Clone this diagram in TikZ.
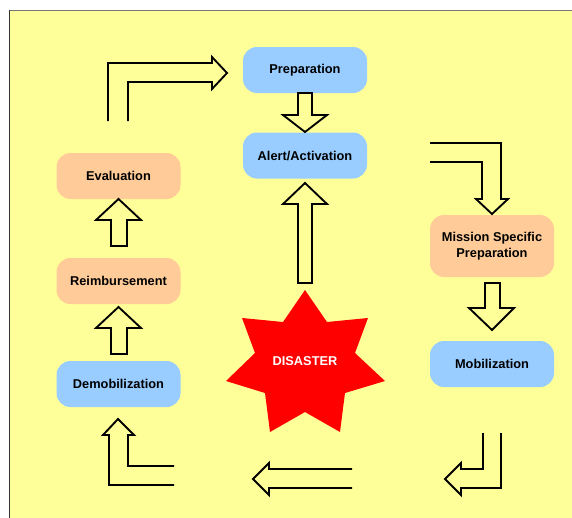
\documentclass[tikz,border=0pt]{standalone}
\usepackage{fontspec}
\setmainfont{Liberation Sans}
\definecolor{bgyellow}{HTML}{FFFF99}
\definecolor{boxblue}{HTML}{99CCFF}
\definecolor{boxpeach}{HTML}{FFCC99}
\definecolor{topline}{HTML}{777777}
\definecolor{leftline}{HTML}{333333}
\begin{document}
\begin{tikzpicture}[x=0.75pt,y=-0.75pt,
  stage/.style={rounded corners=10.5pt, minimum width=93pt, minimum height=34.5pt,
    inner sep=0pt, align=center, font=\bfseries\fontsize{9.6}{12}\selectfont, text=black},
  bluestage/.style={stage, fill=boxblue},
  peachstage/.style={stage, fill=boxpeach},
  blockarrow/.style={draw=black, line width=1.4pt, fill=bgyellow, line join=miter},
  openarrow/.style={draw=black, line width=1.4pt, line join=miter}]
\useasboundingbox (0,0) rectangle (572,518);
\fill[bgyellow] (9,10) rectangle (572,518);
\draw[topline, line width=1.2pt] (9,10.5) -- (572,10.5);
\draw[leftline, line width=1.2pt] (9.5,10) -- (9.5,518);

% stages
\node[bluestage] (prep) at (305,70) {Preparation};
\node[bluestage] (alert) at (305,155.5) {Alert/Activation};
\node[peachstage, minimum height=46.5pt] (mission) at (492,246) {Mission Specific\\Preparation};
\node[bluestage] (mobil) at (492,364) {Mobilization};
\node[peachstage] (eval) at (118.5,176) {Evaluation};
\node[peachstage] (reimb) at (118.5,281) {Reimbursement};
\node[bluestage] (demob) at (118.5,384) {Demobilization};

% disaster star
\fill[red] (305,290) -- (327,322) -- (368,318) -- (355,353) -- (385,381) -- (345,393)
  -- (340,432) -- (305,412) -- (270,432) -- (265,393) -- (226,381) -- (255,353)
  -- (242,318) -- (283,322) -- cycle;
\node[font=\bfseries\fontsize{9.6}{11.5}\selectfont, text=white] (disaster) at (305,361) {DISASTER};

% straight block arrows
\draw[blockarrow] (298,93) -- (312,93) -- (312,115) -- (327,115) -- (305,132)
  -- (283,115) -- (298,115) -- cycle;
\draw[blockarrow] (298,283) -- (312,283) -- (312,204) -- (327,204) -- (305,183)
  -- (283,204) -- (298,204) -- cycle;
\draw[blockarrow] (485,283) -- (500,283) -- (500,308) -- (514,308) -- (492,330)
  -- (469,308) -- (485,308) -- cycle;
\draw[blockarrow] (111,246) -- (127,246) -- (127,220) -- (141,220) -- (118.5,199)
  -- (96,220) -- (111,220) -- cycle;
\draw[blockarrow] (111,354) -- (127,354) -- (127,328) -- (141,328) -- (118.5,307)
  -- (96,328) -- (111,328) -- cycle;

% open (bent) arrows
\draw[openarrow] (108,121) -- (108,63) -- (212,63) -- (212,57) -- (227,73)
  -- (212,89) -- (212,82) -- (128,82) -- (128,121);
\draw[openarrow] (430,143) -- (501,143) -- (501,199) -- (508,199) -- (492,214)
  -- (476,199) -- (482,199) -- (482,162) -- (430,162);
\draw[openarrow] (501,433) -- (501,488) -- (461,488) -- (461,495) -- (445,479)
  -- (461,463) -- (461,469) -- (483,469) -- (483,433);
\draw[openarrow] (352,469) -- (269,469) -- (269,463) -- (253,479) -- (269,495)
  -- (269,488) -- (352,488);
\draw[openarrow] (174,485) -- (109,485) -- (109,435) -- (103,435) -- (118,419)
  -- (134,435) -- (128,435) -- (128,466) -- (174,466);
\end{tikzpicture}
\end{document}
